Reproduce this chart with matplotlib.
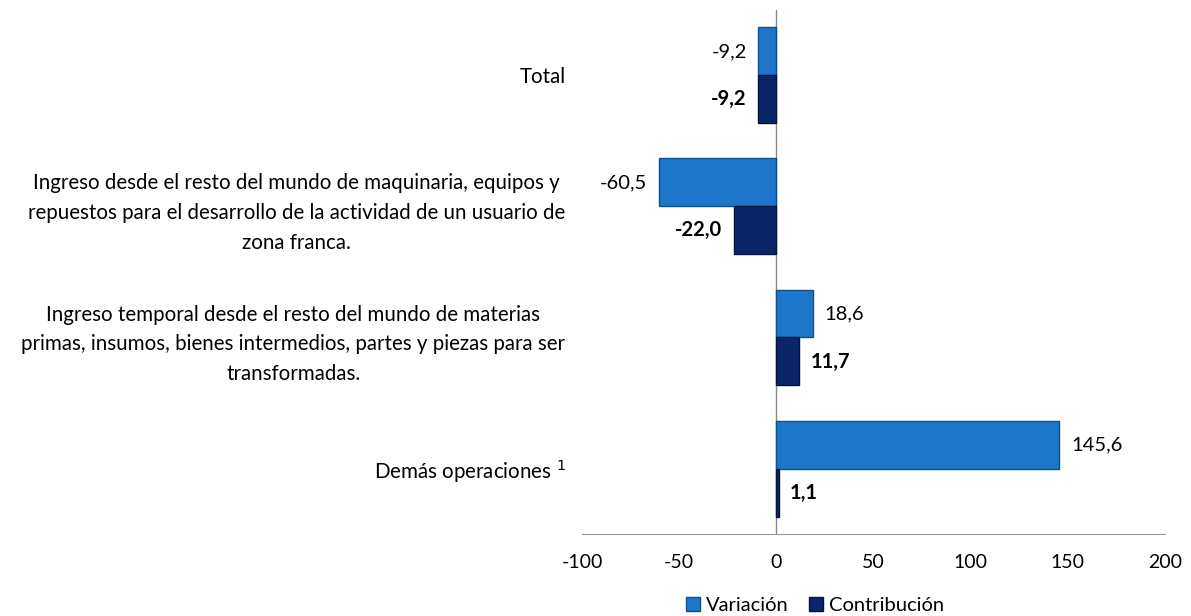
import numpy as np
import matplotlib.pyplot as plt

plt.rcParams['font.family'] = ['Lato', 'DejaVu Sans']

categories = [
    "Total",
    "Ingreso desde el resto del mundo de maquinaria, equipos y\nrepuestos para el desarrollo de la actividad de un usuario de\nzona franca.",
    "Ingreso temporal desde el resto del mundo de materias\nprimas, insumos, bienes intermedios, partes y piezas para ser\ntransformadas.",
    "Demás operaciones $^{1}$",
]
variacion = [-9.2, -60.5, 18.6, 145.6]
contribucion = [-9.2, -22.0, 11.7, 1.1]

col_var = '#1C76C9'
col_con = '#0B2668'

fig = plt.figure(figsize=(11.91, 6.16), dpi=100)
ax = fig.add_axes([0.4887, 0.133, 0.4895, 0.851])

y = np.arange(len(categories))
h = 0.366
ax.barh(y - h / 2, variacion, height=h, color=col_var, edgecolor='#0E4F8E', linewidth=1.0, label='Variación')
ax.barh(y + h / 2, contribucion, height=h, color=col_con, edgecolor='#06143A', linewidth=1.0, label='Contribución')

def fmt(v):
    return f"{v:.1f}".replace('.', ',')

for i, v in enumerate(variacion):
    off = 6 if v >= 0 else -6
    ax.text(v + off, i - h / 2, fmt(v), ha='left' if v >= 0 else 'right', va='center', fontsize=14.5)
for i, v in enumerate(contribucion):
    off = 6 if v >= 0 else -6
    ax.text(v + off, i + h / 2, fmt(v), ha='left' if v >= 0 else 'right', va='center', fontsize=14.5, fontweight='bold')

ax.set_xlim(-100, 200)
ax.set_ylim(len(categories) - 0.5, -0.5)
ax.set_xticks([-100, -50, 0, 50, 100, 150, 200])
ax.set_xticklabels(['-100', '-50', '0', '50', '100', '150', '200'], fontsize=14)
ax.set_yticks(y)
ax.set_yticklabels(categories, fontsize=14.8, multialignment='center', linespacing=1.62)
ax.tick_params(axis='both', length=0)
ax.tick_params(axis='x', pad=14)
ax.tick_params(axis='y', pad=12)

for s in ['top', 'right', 'left']:
    ax.spines[s].set_visible(False)
ax.spines['bottom'].set_color('#999999')
ax.axvline(0, color='#888888', linewidth=1.0, zorder=0)

ax.legend(loc='upper center', bbox_to_anchor=(0.40, -0.085), ncol=2, frameon=False,
          fontsize=14.5, handlelength=0.7, handleheight=0.7, handletextpad=0.3, columnspacing=1.0)

fig.savefig('out.png', dpi=100)
